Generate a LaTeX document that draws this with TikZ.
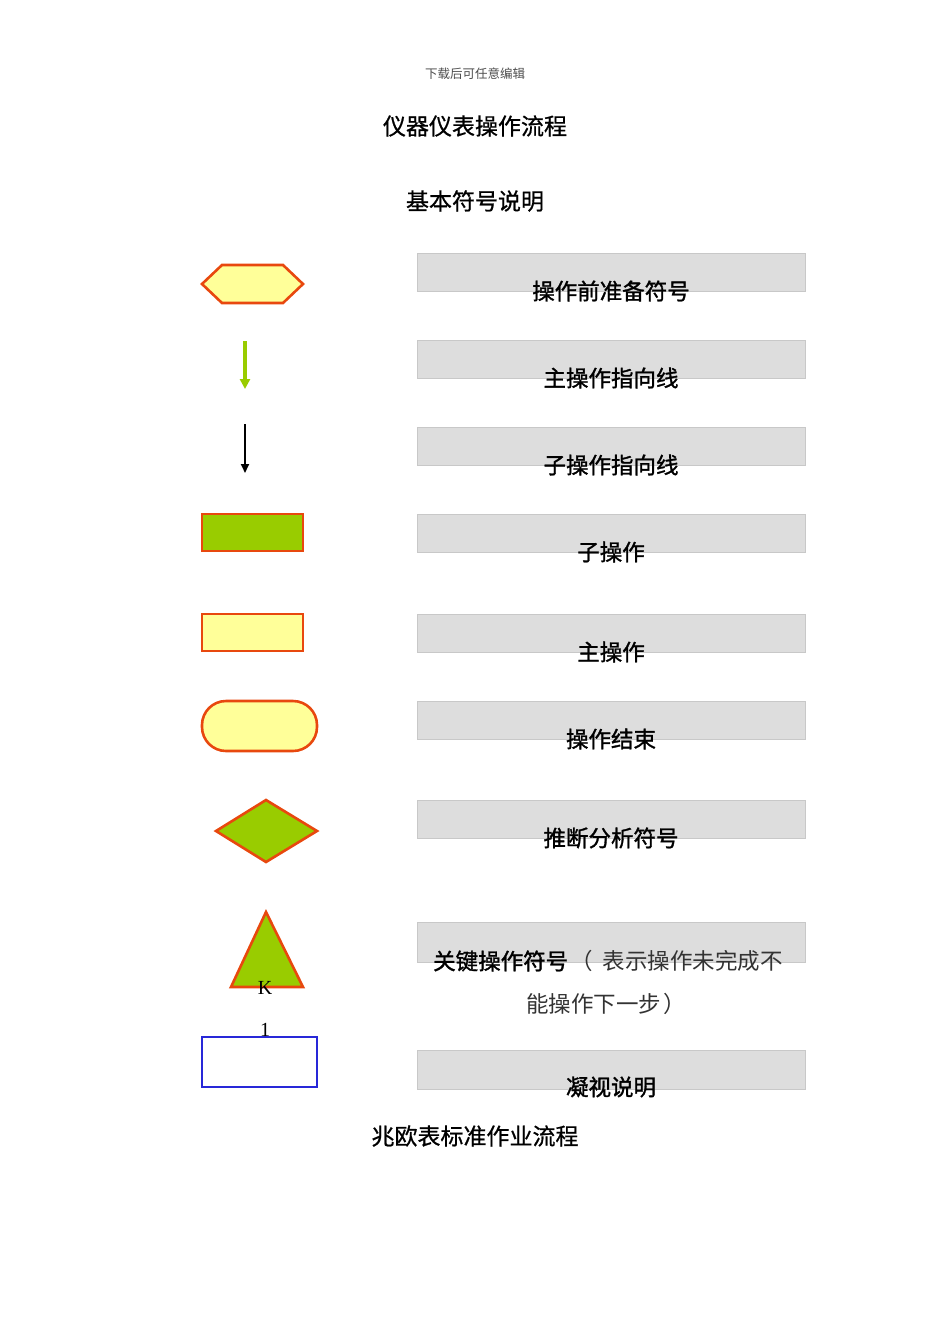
\documentclass[tikz,border=0pt]{standalone}
\usetikzlibrary{arrows.meta}
\usepackage{fontspec}
\newfontfamily\cjk{Noto Sans CJK SC}
\newfontfamily\cjkm{Noto Sans CJK SC}[FakeBold=1.3]
\newfontfamily\cjkt{Noto Sans CJK SC}[FakeBold=0.8]
\newfontfamily\latk{Liberation Serif}
\definecolor{fy}{HTML}{FFFF99}
\definecolor{fo}{HTML}{E8480E}
\definecolor{fg}{HTML}{99CC00}
\definecolor{gb}{HTML}{DDDDDD}
\definecolor{gl}{HTML}{C8C8C8}
\definecolor{bl}{HTML}{2828D8}
\tikzset{
  shp/.style={draw=fo, line width=2.6pt, line join=miter},
  gbox/.style={draw=gl, fill=gb, line width=0.8pt, minimum width=388pt, minimum height=38pt, anchor=north west, inner sep=0pt},
  lbl/.style={font=\cjkm\fontsize{22.5pt}{26pt}\selectfont, anchor=center, inner sep=0pt},
  ttl/.style={font=\cjkt\fontsize{23pt}{27pt}\selectfont, anchor=center, inner sep=0pt},
}
\begin{document}
\begin{tikzpicture}[x=1pt,y=-1pt]
\useasboundingbox (0,0) rectangle (950,1344);
% headings
\node[inner sep=0pt, text=black!70, font=\cjk\fontsize{12.5pt}{14pt}\selectfont] (hdr) at (475,74) {下载后可任意编辑};
\node[ttl] (title) at (475,126) {仪器仪表操作流程};
\node[ttl] (sub) at (475,201) {基本符号说明};
\node[ttl] (foot) at (475,1136) {兆欧表标准作业流程};
% symbols
\draw[shp, fill=fy] (202,284) -- (222,265) -- (283,265) -- (303,284) -- (283,303) -- (222,303) -- cycle;
\coordinate (ga) at (245,341); \coordinate (gz) at (245,389);
\draw[draw=fg, line width=3.5pt, -{Triangle[width=10pt,length=10pt]}] (ga) -- (gz);
\coordinate (ka) at (245,424); \coordinate (kz) at (245,473);
\draw[draw=black, line width=1.8pt, -{Triangle[width=8pt,length=9pt]}] (ka) -- (kz);
\draw[shp, fill=fg] (202,514) rectangle (303,551);
\draw[shp, fill=fy] (202,614) rectangle (303,651);
\draw[shp, fill=fy, rounded corners=24pt] (202,701) rectangle (317,751);
\draw[shp, fill=fg] (216,831) -- (266,800) -- (317,831) -- (266,862) -- cycle;
\draw[shp, fill=fg] (266,912) -- (303,987) -- (231,987) -- cycle;
\node[inner sep=0pt, font=\latk\fontsize{20pt}{22pt}\selectfont] (k) at (265,988) {K};
\node[inner sep=0pt, font=\latk\fontsize{20pt}{22pt}\selectfont] (one) at (265,1030) {1};
\draw[draw=bl, line width=1.6pt] (202,1037) rectangle (317,1087);
% gray boxes
\node[gbox] (b1) at (417,253) {};
\node[gbox] (b2) at (417,340) {};
\node[gbox] (b3) at (417,427) {};
\node[gbox] (b4) at (417,514) {};
\node[gbox] (b5) at (417,614) {};
\node[gbox] (b6) at (417,701) {};
\node[gbox] (b7) at (417,800) {};
\node[gbox, minimum height=40pt] (b8) at (417,922) {};
\node[gbox, minimum height=39pt] (b9) at (417,1050) {};
% labels
\node[lbl] (l1) at (611,291) {操作前准备符号};
\node[lbl] (l2) at (611,378) {主操作指向线};
\node[lbl] (l3) at (611,465) {子操作指向线};
\node[lbl] (l4) at (611,552) {子操作};
\node[lbl] (l5) at (611,652) {主操作};
\node[lbl] (l6) at (611,739) {操作结束};
\node[lbl] (l7) at (611,838) {推断分析符号};
\node[lbl, anchor=west] (l8) at (433,961) {关键操作符号{\cjk\color{black!80}\hspace{2pt}（\hspace{10pt}表示操作未完成不}};
\node[lbl, anchor=center] (l8b) at (606,1004) {{\cjk\color{black!80}能操作下一步\hspace{2pt}）}};
\node[lbl] (l9) at (611,1087) {凝视说明};
\end{tikzpicture}
\end{document}
